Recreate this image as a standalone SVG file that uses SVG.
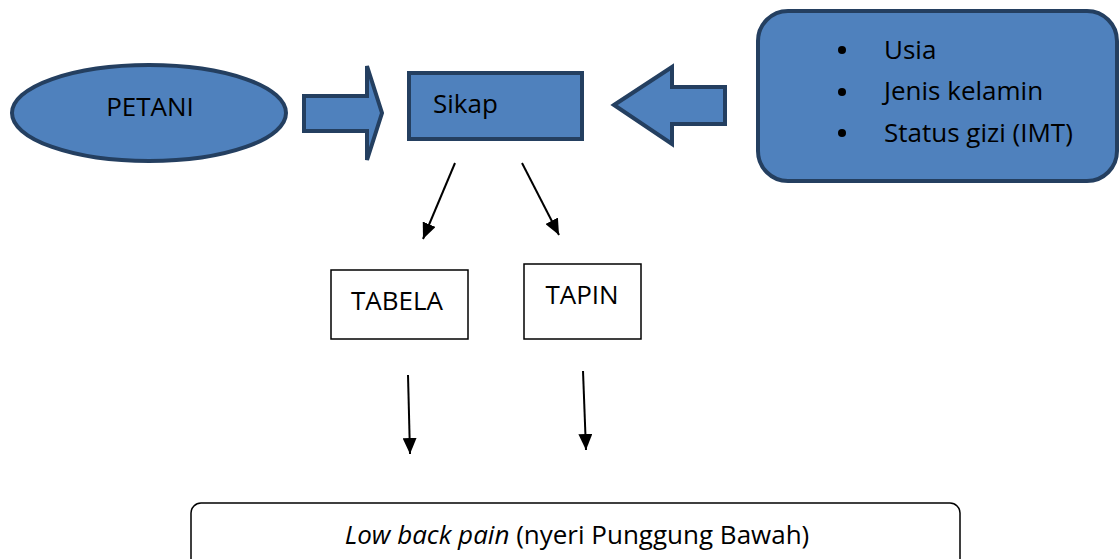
<svg xmlns="http://www.w3.org/2000/svg" width="1120" height="559" viewBox="0 0 1120 559">
<style>
.blue{fill:#4F81BD;stroke:#243F60;stroke-width:4;stroke-linejoin:miter}
.box{fill:#fff;stroke:#000;stroke-width:1.5}
.t{font-family:"Open Sans","Noto Sans",sans-serif;font-size:26px;fill:#000}
.ln{stroke:#000;stroke-width:2;fill:none}
</style>
<defs>
<marker id="ah" viewBox="0 0 16 14" refX="16" refY="7" markerWidth="16" markerHeight="14" markerUnits="userSpaceOnUse" orient="auto">
<path d="M0,0 L16,7 L0,14 Z" fill="#000"/>
</marker>
</defs>
<rect width="1120" height="559" fill="#fff"/>
<g id="petani">
<ellipse class="blue" cx="149" cy="113" rx="137" ry="48"/>
<text class="t" x="150" y="116" text-anchor="middle">PETANI</text>
</g>
<g id="arrow-right">
<path class="blue" d="M304,96 L367,96 L367,66 L382,113 L367,160 L367,131 L304,131 Z"/>
</g>
<g id="sikap">
<rect class="blue" x="409" y="73" width="173" height="66"/>
<text class="t" x="433" y="113">Sikap</text>
</g>
<g id="arrow-left">
<path class="blue" d="M614,105 L672,67 L672,87 L725,87 L725,124 L672,124 L672,144 Z"/>
</g>
<g id="factors">
<rect class="blue" x="758" y="11" width="359" height="170" rx="30" ry="30"/>
<circle cx="842" cy="50" r="4" fill="#000"/>
<circle cx="842" cy="92" r="4" fill="#000"/>
<circle cx="842" cy="133" r="4" fill="#000"/>
<text class="t" x="884" y="59">Usia</text>
<text class="t" x="884" y="100">Jenis kelamin</text>
<text class="t" x="884" y="142">Status gizi (IMT)</text>
</g>
<g id="tabela">
<rect class="box" x="331" y="270" width="137" height="69"/>
<text class="t" x="397" y="310" text-anchor="middle">TABELA</text>
</g>
<g id="tapin">
<rect class="box" x="524" y="264" width="117" height="75"/>
<text class="t" x="582" y="304" text-anchor="middle">TAPIN</text>
</g>
<g id="lbp">
<rect class="box" x="191" y="503" width="769" height="80" rx="10" ry="10"/>
<text class="t" x="577" y="544" text-anchor="middle"><tspan font-style="italic">Low back pain</tspan> (nyeri Punggung Bawah)</text>
</g>
<g id="connectors">
<line class="ln" x1="455" y1="163" x2="423" y2="239" marker-end="url(#ah)"/>
<line class="ln" x1="522" y1="163" x2="559" y2="235" marker-end="url(#ah)"/>
<line class="ln" x1="408" y1="375" x2="410" y2="454" marker-end="url(#ah)"/>
<line class="ln" x1="583" y1="371" x2="586" y2="450" marker-end="url(#ah)"/>
</g>
</svg>
